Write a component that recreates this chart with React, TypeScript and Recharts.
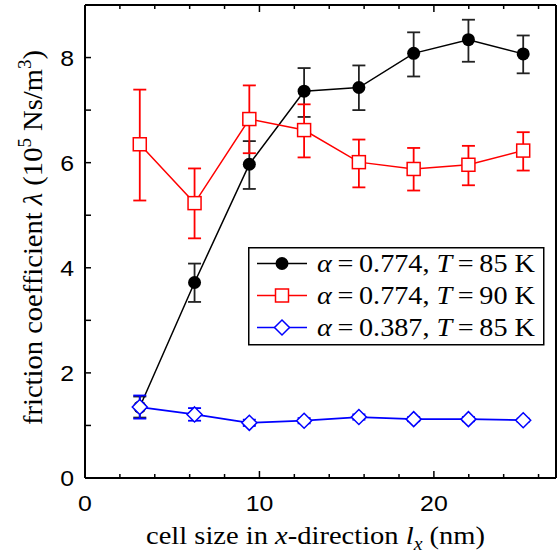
import {ComposedChart, ErrorBar, Legend, Line, XAxis, YAxis} from "recharts";

// cell size l_x (nm)
const cellSize = [3.14, 6.28, 9.42, 12.56, 15.7, 18.84, 21.98, 25.12];

// alpha = 0.774, T = 85 K
const blackLambda = [1.35, 3.72, 5.97, 7.36, 7.43, 8.08, 8.34, 8.07];
const blackErrLow = [0.2, 0.37, 0.47, 0.49, 0.43, 0.44, 0.42, 0.37];
const blackErrHigh = [0.2, 0.36, 0.44, 0.44, 0.42, 0.4, 0.38, 0.35];

// alpha = 0.774, T = 90 K
const redLambda = [6.35, 5.23, 6.83, 6.62, 6.01, 5.88, 5.96, 6.23];
const redErrLow = [1.07, 0.67, 0.65, 0.52, 0.48, 0.41, 0.39, 0.38];
const redErrHigh = [1.04, 0.66, 0.64, 0.49, 0.43, 0.4, 0.36, 0.35];

// alpha = 0.387, T = 85 K
const blueLambda = [1.35, 1.21, 1.05, 1.09, 1.16, 1.12, 1.12, 1.1];
const blueErr = [0.22, 0.12, 0.06, 0.05, 0.05, 0.04, 0.04, 0.03];

const xTicks = [0, 2, 4, 6, 8, 10, 12, 14, 16, 18, 20, 22, 24, 26];
const yTicks = [0, 1, 2, 3, 4, 5, 6, 7, 8];

const legendAlpha = ["0.774", "0.774", "0.387"];
const legendTemp = [85, 90, 85];
const legendColors = ["#000000", "#ff0000", "#0000ff"];

const data = cellSize.map((lx, i) => ({
    lx,
    black: blackLambda[i],
    blackErr: [blackErrLow[i], blackErrHigh[i]],
    red: redLambda[i],
    redErr: [redErrLow[i], redErrHigh[i]],
    blue: blueLambda[i],
    blueErr: blueErr[i]
}));

const SANS = "'Liberation Sans', Arial, sans-serif";
const SERIF = "'Liberation Serif', 'Times New Roman', serif";
const STRETCH = 1.13;

const BottomTick = ({x, y, payload}: any) => {
    const v = payload.value;
    const major = v % 10 === 0;
    return (
        <g>
            <line x1={x} y1={y} x2={x} y2={y - (major ? 7 : 4)} stroke="#000" strokeWidth={1.5}/>
            {major && (
                <text transform={`translate(${x},${y + 33}) scale(${STRETCH},1)`} textAnchor="middle"
                      fontFamily={SANS} fontSize={22} fill="#000">{v}</text>
            )}
        </g>
    );
};

const TopTick = ({x, y, payload}: any) => {
    const major = payload.value % 10 === 0;
    return <line x1={x} y1={y} x2={x} y2={y + (major ? 7 : 4)} stroke="#000" strokeWidth={1.5}/>;
};

const LeftTick = ({x, y, payload}: any) => {
    const v = payload.value;
    return (
        <g>
            <line x1={x} y1={y} x2={x + 6} y2={y} stroke="#000" strokeWidth={1.5}/>
            {v % 2 === 0 && (
                <text transform={`translate(${x - 11},${y + 8}) scale(${STRETCH},1)`} textAnchor="end"
                      fontFamily={SANS} fontSize={22} fill="#000">{v}</text>
            )}
        </g>
    );
};

const RightTick = ({x, y}: any) => (
    <line x1={x} y1={y} x2={x - 6} y2={y} stroke="#000" strokeWidth={1.5}/>
);

const XLabel = ({viewBox}: any) => (
    <text x={viewBox.x + viewBox.width / 2 - 5} y={viewBox.y + 66} textAnchor="middle"
          fontFamily={SERIF} fontSize={26} fill="#000" textLength={339} lengthAdjust="spacingAndGlyphs">
        cell size in <tspan fontStyle="italic">x</tspan>-direction <tspan fontStyle="italic">l</tspan>
        <tspan fontStyle="italic" fontSize={18} dy={6}>x</tspan>
        <tspan dy={-6}> (nm)</tspan>
    </text>
);

const YLabel = ({viewBox}: any) => {
    const cx = 42;
    const cy = viewBox.y + viewBox.height / 2 - 4;
    return (
        <text transform={`translate(${cx},${cy}) rotate(-90)`} textAnchor="middle"
              fontFamily={SERIF} fontSize={27} fill="#000" textLength={375} lengthAdjust="spacingAndGlyphs">
            friction coefficient <tspan fontStyle="italic">λ</tspan> (10
            <tspan fontSize={18} dy={-11}>5</tspan>
            <tspan dy={11}> Ns/m</tspan>
            <tspan fontSize={18} dy={-11}>3</tspan>
            <tspan dy={11}>)</tspan>
        </text>
    );
};

const CircleMark = ({cx, cy}: { cx: number; cy: number }) => <circle cx={cx} cy={cy} r={6.5} fill="#000"/>;
const SquareMark = ({cx, cy}: { cx: number; cy: number }) => (
    <rect x={cx - 6.5} y={cy - 6.5} width={13} height={13} fill="#fff" stroke="#ff0000" strokeWidth={1.5}/>
);
const DiamondMark = ({cx, cy}: { cx: number; cy: number }) => (
    <path d={`M${cx},${cy - 7.5}L${cx + 7.5},${cy}L${cx},${cy + 7.5}L${cx - 7.5},${cy}Z`} fill="#fff"
          stroke="#0000ff" strokeWidth={1.5}/>
);
const legendMarks = [CircleMark, SquareMark, DiamondMark];

const LegendBox = () => (
    <svg width={297} height={99} style={{display: "block"}}>
        <rect x={0.75} y={0.75} width={295} height={97} fill="#fff" stroke="#000" strokeWidth={1.5}/>
        {legendAlpha.map((alpha, i) => {
            const cy = 16.5 + i * 32;
            const Mark = legendMarks[i];
            return (
                <g key={i}>
                    <line x1={9} x2={59} y1={cy} y2={cy} stroke={legendColors[i]} strokeWidth={1.5}/>
                    <Mark cx={34} cy={cy}/>
                    <text x={69} y={cy + 8.5} fontFamily={SERIF} fontSize={25} fill="#000"
                          textLength={218} lengthAdjust="spacingAndGlyphs">
                        <tspan fontStyle="italic">α</tspan>
                        {`\u2009=\u2009${alpha}, `}
                        <tspan fontStyle="italic">T</tspan>
                        {`\u2009=\u2009${legendTemp[i]} K`}
                    </text>
                </g>
            );
        })}
    </svg>
);

const dotOf = (Mark: any) => (p: any) =>
    p.cx == null ? <g key={p.index}/> : <Mark key={p.index} cx={p.cx} cy={p.cy}/>;

const App = () => {
    return (
        <div style={{position: "absolute", left: 0, top: 0}}>
            <ComposedChart width={560} height={554} data={data} margin={{top: 4, right: 3, bottom: 0, left: 0}}>
                <XAxis xAxisId="bottom" type="number" dataKey="lx" domain={[0, 27]} ticks={xTicks} interval={0}
                       height={76} tickSize={0} tickMargin={0} tickLine={false} tick={<BottomTick/>}
                       axisLine={{stroke: "#000", strokeWidth: 2}} label={<XLabel/>}/>
                <XAxis xAxisId="top" orientation="top" type="number" dataKey="lx" domain={[0, 27]} ticks={xTicks}
                       interval={0} height={1} tickSize={0} tickMargin={0} tickLine={false} tick={<TopTick/>}
                       axisLine={{stroke: "#000", strokeWidth: 2}}/>
                <YAxis yAxisId="left" type="number" domain={[0, 9]} ticks={yTicks} interval={0} width={85}
                       tickSize={0} tickMargin={0} tickLine={false} tick={<LeftTick/>}
                       axisLine={{stroke: "#000", strokeWidth: 2}} label={<YLabel/>}/>
                <YAxis yAxisId="right" orientation="right" type="number" domain={[0, 9]} ticks={yTicks} interval={0}
                       width={1} tickSize={0} tickMargin={0} tickLine={false} tick={<RightTick/>}
                       axisLine={{stroke: "#000", strokeWidth: 2}}/>
                <Legend layout="vertical" align="center" verticalAlign="middle" content={() => <LegendBox/>}
                        wrapperStyle={{left: 248, top: 247, width: 297, height: 99}}/>
                <Line xAxisId="bottom" yAxisId="left" type="linear" dataKey="black" stroke="#000" strokeWidth={1.5}
                      dot={dotOf(CircleMark)} activeDot={false} isAnimationActive={false}>
                    <ErrorBar dataKey="blackErr" direction="y" width={6.5} stroke="#222" strokeWidth={1.8}/>
                </Line>
                <Line xAxisId="bottom" yAxisId="left" type="linear" dataKey="red" stroke="#ff0000" strokeWidth={1.5}
                      dot={dotOf(SquareMark)} activeDot={false} isAnimationActive={false}>
                    <ErrorBar dataKey="redErr" direction="y" width={6.5} stroke="#ff0000" strokeWidth={1.8}/>
                </Line>
                <Line xAxisId="bottom" yAxisId="left" type="linear" dataKey="blue" stroke="#0000ff" strokeWidth={1.8}
                      dot={dotOf(DiamondMark)} activeDot={false} isAnimationActive={false}>
                    <ErrorBar dataKey="blueErr" direction="y" width={6.5} stroke="#0000ff" strokeWidth={1.8}/>
                </Line>
            </ComposedChart>
        </div>
    );
};

export default App;
